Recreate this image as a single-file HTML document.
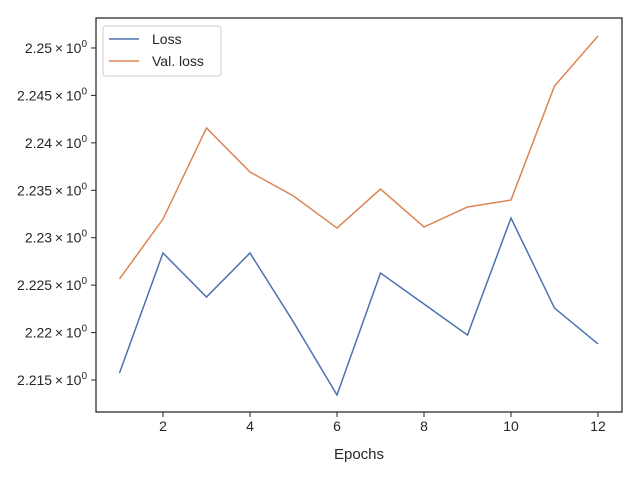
<!DOCTYPE html>
<html><head><meta charset="utf-8"><style>
body{margin:0;background:#fff;}
svg{display:block;font-family:"Liberation Sans","DejaVu Sans",sans-serif;}
</style></head><body>
<svg id="chart" width="640" height="480"></svg>
<script>
const epochs=[1,2,3,4,5,6,7,8,9,10,11,12];
const lossValues=[2.21574,2.22839,2.22375,2.22839,2.22111,2.21342,2.22628,2.22301,2.21974,2.23208,2.22259,2.21880];
const valLossValues=[2.22565,2.23197,2.24157,2.23693,2.23440,2.23102,2.23513,2.23113,2.23324,2.23397,2.24599,2.25126];
const xTicks=[2,4,6,8,10,12];
const yTicks=[2.215,2.22,2.225,2.23,2.235,2.24,2.245,2.25];
const yTickLabels=["2.215","2.22","2.225","2.23","2.235","2.24","2.245","2.25"];
const L=96,R=622,T=18,B=412;
const xMin=0.46,xMax=12.552,yMin=2.21163,yMax=2.25316;
const sx=v=>L+(v-xMin)/(xMax-xMin)*(R-L);
const sy=v=>B-(v-yMin)/(yMax-yMin)*(B-T);
const svg=document.getElementById('chart');
const NS='http://www.w3.org/2000/svg';
function mk(tag,attrs,parent){const e=document.createElementNS(NS,tag);for(const k in attrs)e.setAttribute(k,attrs[k]);(parent||svg).appendChild(e);return e;}
xTicks.forEach(t=>{
  const g=mk('g',{});
  
  
  mk('line',{x1:sx(t),x2:sx(t),y1:B,y2:B+5,stroke:'#262626','stroke-width':1},g);
  const tx=mk('text',{x:sx(t),y:B+19,'text-anchor':'middle','font-size':14,fill:'#262626'},g);tx.textContent=t;
});
yTicks.forEach((t,i)=>{
  const g=mk('g',{});
  
  
  mk('line',{x1:L-5,x2:L,y1:sy(t),y2:sy(t),stroke:'#262626','stroke-width':1},g);
  const tx=mk('text',{x:L-9,y:sy(t)+5,'text-anchor':'end','font-size':14,fill:'#262626'},g);
  tx.textContent=yTickLabels[i]+'\u2009×\u200910';
  const s=mk('tspan',{dy:-6,'font-size':10},tx);s.textContent='0';
});
function series(vals,color,name){
  const p=mk('polyline',{points:vals.map((v,i)=>sx(epochs[i])+','+sy(v)).join(' '),fill:'none',stroke:color,'stroke-width':1.5});
  
  
}
series(lossValues,'#4c72b0','loss-line');
series(valLossValues,'#dd8452','val-loss-line');
const frame=mk('rect',{x:L,y:T,width:R-L,height:B-T,fill:'none',stroke:'#262626','stroke-width':1.25});


const xl=mk('text',{x:(L+R)/2,y:459,'text-anchor':'middle','font-size':15,fill:'#262626'});
xl.textContent='Epochs';


const lg=mk('g',{});


mk('rect',{x:103,y:26,width:118,height:50,rx:3,fill:'#fff','fill-opacity':0.8,stroke:'#ccc'},lg);
mk('line',{x1:109,x2:139,y1:39,y2:39,stroke:'#4c72b0','stroke-width':1.5},lg);
let t1=mk('text',{x:152,y:44,'font-size':14,fill:'#262626'},lg);t1.textContent='Loss';
mk('line',{x1:109,x2:139,y1:61,y2:61,stroke:'#dd8452','stroke-width':1.5},lg);
let t2=mk('text',{x:152,y:66,'font-size':14,fill:'#262626'},lg);t2.textContent='Val. loss';
</script>
</body></html>
